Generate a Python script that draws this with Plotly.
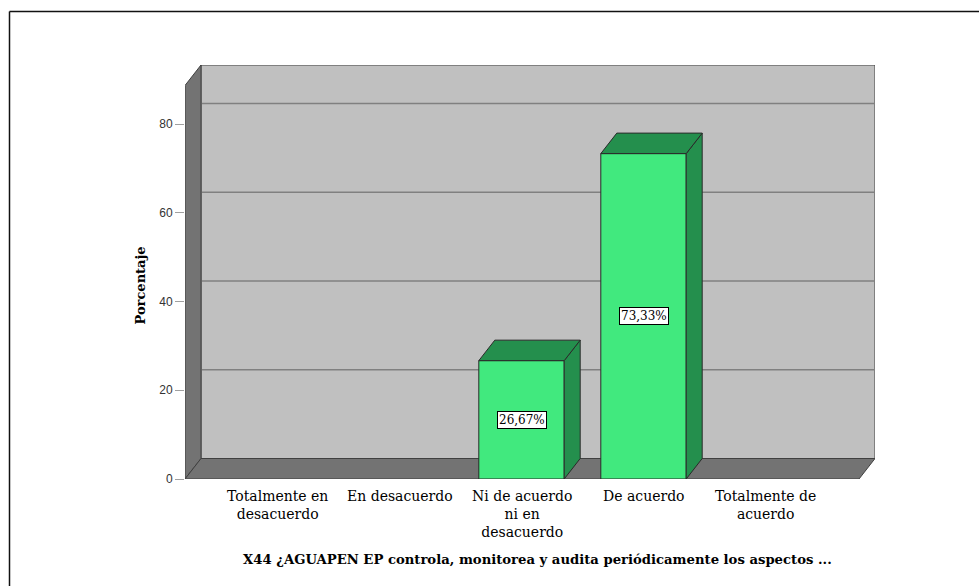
import plotly.graph_objects as go

# ---- data ----
categories = ["Totalmente en desacuerdo", "En desacuerdo",
              "Ni de acuerdo ni en desacuerdo", "De acuerdo", "Totalmente de acuerdo"]
category_labels = ["Totalmente en<br>desacuerdo", "En desacuerdo",
                   "Ni de acuerdo<br>ni en<br>desacuerdo", "De acuerdo",
                   "Totalmente de<br>acuerdo"]
percentages = [0, 0, 26.67, 73.33, 0]
value_labels = ["", "", "26,67%", "73,33%", ""]
y_ticks = [0, 20, 40, 60, 80]
y_title = "Porcentaje"
x_title = "X44 ¿AGUAPEN EP controla, monitorea y audita periódicamente los aspectos ..."

# ---- geometry / style ----
W, H = 979, 586
PL, PR, PT, PB = 185, 875, 65, 479          # plot area in pixels
PX_PER_CAT = 122.0
PX_PER_UNIT = 4.4375
X0 = -(277.5 - PL) / PX_PER_CAT
X1 = X0 + (PR - PL) / PX_PER_CAT
YMAX = (PB - PT) / PX_PER_UNIT
DX = 16 / PX_PER_CAT                         # depth offset (x units)
DY = 20.5 / PX_PER_UNIT                      # depth offset (y units)
BW = 0.70                                    # bar width

FRONT = "#41E97E"
SIDE = "#248F4D"
WALL = "#C0C0C0"
DARKWALL = "#737373"
EDGE = "#2a2a2a"
SERIF = "DejaVu Serif"

def px2paper_x(p):
    return (p - PL) / (PR - PL)

def px2paper_y(p):
    return (PB - p) / (PB - PT)

idx = list(range(len(categories)))
fig = go.Figure()

shapes = []
# back wall
shapes.append(dict(type="path", xref="x", yref="y", layer="below",
                   path=f"M {X0+DX} {DY} L {X1} {DY} L {X1} {YMAX} L {X0+DX} {YMAX} Z",
                   fillcolor=WALL, line=dict(color="#404040", width=1)))
# gridlines on back wall
for v in y_ticks[1:]:
    shapes.append(dict(type="line", xref="x", yref="y", layer="below",
                       x0=X0 + DX, x1=X1, y0=v + DY, y1=v + DY,
                       line=dict(color="#808080", width=1.5)))
# left wall
shapes.append(dict(type="path", xref="x", yref="y", layer="below",
                   path=f"M {X0} 0 L {X0} {YMAX-DY} L {X0+DX} {YMAX} L {X0+DX} {DY} Z",
                   fillcolor=DARKWALL, line=dict(color="#404040", width=1)))
# floor
shapes.append(dict(type="path", xref="x", yref="y", layer="below",
                   path=f"M {X0} 0 L {X1-DX} 0 L {X1} {DY} L {X0+DX} {DY} Z",
                   fillcolor=DARKWALL, line=dict(color="#404040", width=1)))
# outer frame (top & left)
shapes.append(dict(type="line", xref="paper", yref="paper",
                   x0=px2paper_x(9.5), x1=px2paper_x(W), y0=px2paper_y(11.5), y1=px2paper_y(11.5),
                   line=dict(color="#111111", width=1.5)))
shapes.append(dict(type="line", xref="paper", yref="paper",
                   x0=px2paper_x(9.5), x1=px2paper_x(9.5), y0=px2paper_y(11.5), y1=px2paper_y(H),
                   line=dict(color="#111111", width=1.5)))

# 3D faces of bars (side and top) computed from data
for i, v in zip(idx, percentages):
    if v <= 0:
        continue
    l, r = i - BW / 2, i + BW / 2
    fig.add_trace(go.Scatter(
        x=[r, r, r + DX, r + DX, r], y=[0, v, v + DY, DY, 0],
        mode="lines", fill="toself", fillcolor=SIDE,
        line=dict(color=EDGE, width=1), hoverinfo="skip", showlegend=False))
    fig.add_trace(go.Scatter(
        x=[l, r, r + DX, l + DX, l], y=[v, v, v + DY, v + DY, v],
        mode="lines", fill="toself", fillcolor=SIDE,
        line=dict(color=EDGE, width=1), hoverinfo="skip", showlegend=False))

# front faces
fig.add_trace(go.Bar(x=idx, y=percentages, width=BW,
                     marker=dict(color=FRONT,
                                 line=dict(color=EDGE, width=[1 if v > 0 else 0 for v in percentages])),
                     showlegend=False, hoverinfo="skip"))

annotations = []
for i, v, t in zip(idx, percentages, value_labels):
    if t:
        annotations.append(dict(x=i, y=v / 2, xref="x", yref="y", text=t, showarrow=False,
                                bgcolor="white", bordercolor="black", borderwidth=1, borderpad=1,
                                font=dict(family=SERIF, size=12, color="black")))
for i, t in zip(idx, category_labels):
    annotations.append(dict(x=i, y=px2paper_y(486), xref="x", yref="paper", text=t,
                            showarrow=False, yanchor="top", xanchor="center", align="center",
                            font=dict(family=SERIF, size=14, color="black")))
annotations.append(dict(x=px2paper_x(537), y=px2paper_y(569), xref="paper", yref="paper",
                        text=f"<b>{x_title}</b>", showarrow=False,
                        font=dict(family=SERIF, size=13.2, color="black")))
annotations.append(dict(x=px2paper_x(130), y=px2paper_y(286), xref="paper", yref="paper",
                        text=f"<b>{y_title}</b>", showarrow=False, textangle=-90,
                        font=dict(family=SERIF, size=13, color="black")))

fig.update_layout(
    width=W, height=H, autosize=False,
    margin=dict(l=PL, r=W - PR, t=PT, b=H - PB, pad=0),
    paper_bgcolor="white", plot_bgcolor="white",
    shapes=shapes, annotations=annotations, bargap=0,
    xaxis=dict(range=[X0, X1], showgrid=False, zeroline=False, showline=False,
               showticklabels=False, ticks="", fixedrange=True),
    yaxis=dict(range=[0, YMAX], tickvals=y_ticks, ticks="outside", ticklen=9,
               tickcolor="#a0a0a0", tickwidth=1, showgrid=False, zeroline=False,
               showline=False, ticklabelstandoff=0,
               tickfont=dict(family="Liberation Sans", size=12, color="#333333"),
               fixedrange=True),
)

fig.write_html("out.html", config={"displayModeBar": False, "staticPlot": True},
               post_script=("document.documentElement.style.margin='0px';"
                            "document.documentElement.style.overflow='hidden';"
                            "document.body.style.margin='0px';"
                            "document.body.style.overflow='hidden';"))
